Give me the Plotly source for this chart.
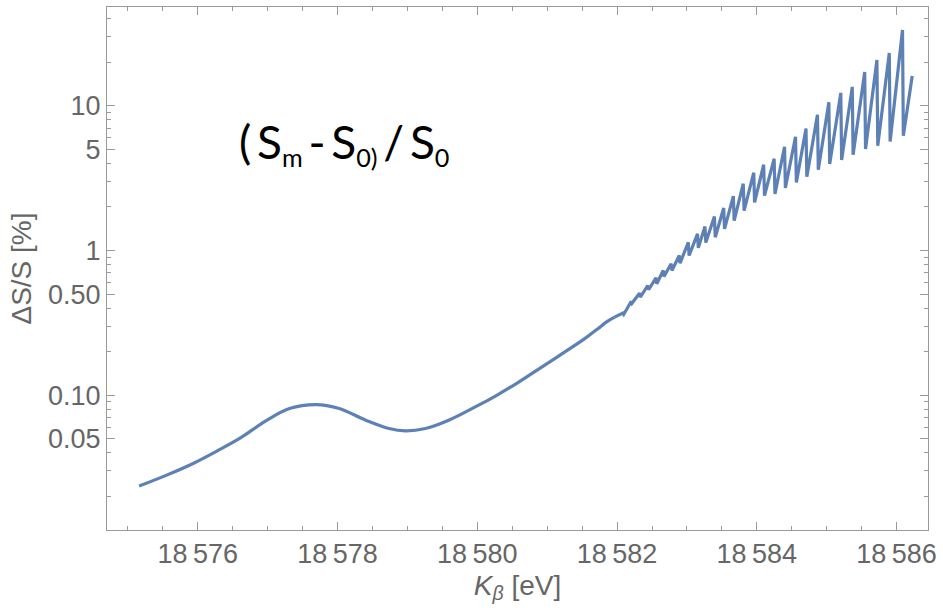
import plotly.graph_objects as go

# ---- data (energy in eV, relative change in %) ----
smooth_energy = [18575.160, 18575.554, 18575.933, 18576.266, 18576.598, 18576.979,
                 18577.311, 18577.691, 18578.023, 18578.403, 18578.735, 18578.973,
                 18579.258, 18579.590, 18579.970, 18580.278, 18580.587, 18580.872,
                 18581.157, 18581.537, 18581.726, 18581.845, 18581.964]
smooth_delta = [0.02358, 0.02807, 0.03380, 0.04100, 0.05028, 0.06680,
                0.08094, 0.08630, 0.08094, 0.06725, 0.05892, 0.05673,
                0.05892, 0.06725, 0.08304, 0.1000, 0.1229, 0.1511,
                0.1858, 0.2461, 0.2884, 0.3201, 0.3467]

tooth_energy = [18582.083, 18582.201, 18582.321, 18582.439, 18582.557, 18582.660,
                18582.774, 18582.890, 18583.019, 18583.151, 18583.258, 18583.393,
                18583.526, 18583.664, 18583.806, 18583.956, 18584.098, 18584.248,
                18584.397, 18584.554, 18584.704, 18584.868, 18585.031, 18585.202,
                18585.366, 18585.544, 18585.719, 18585.896, 18586.085]
tooth_peak = [0.3700, 0.4450, 0.5076, 0.5735, 0.6481, 0.7279, 0.8097, 0.9237,
              1.141, 1.304, 1.464, 1.716, 1.970, 2.376, 2.898, 3.451, 3.918,
              4.310, 5.215, 6.112, 6.971, 8.669, 10.60, 12.29, 13.52, 17.16,
              20.76, 23.21, 33.43]
tooth_trough = [0.3620, 0.4320, 0.4763, 0.5358, 0.5894, 0.6617, 0.7279, 0.8175,
                0.9237, 1.044, 1.135, 1.235, 1.411, 1.610, 1.888, 2.153, 2.395,
                2.460, 2.706, 2.958, 3.238, 3.620, 3.962, 4.222, 4.593, 5.028,
                5.298, 5.673, 6.210]
drop_width_eV = 0.012
end_energy = 18586.224
end_delta = 16.10

x_ticks = [18576, 18578, 18580, 18582, 18584, 18586]
x_ticktext = ["18\u2009576", "18\u2009578", "18\u2009580", "18\u2009582", "18\u2009584", "18\u2009586"]
x_minor = [18575.0, 18575.5, 18576.5, 18577.0, 18577.5, 18578.5, 18579.0, 18579.5,
           18580.5, 18581.0, 18581.5, 18582.5, 18583.0, 18583.5, 18584.5, 18585.0,
           18585.5, 18586.0]
y_ticks = [0.05, 0.1, 0.5, 1, 5, 10]
y_ticktext = ["0.05", "0.10", "0.50", "1", "5", "10"]
y_minor = [0.02, 0.03, 0.04, 0.06, 0.07, 0.08, 0.09,
           0.2, 0.3, 0.4, 0.6, 0.7, 0.8, 0.9,
           2, 3, 4, 6, 7, 8, 9, 20, 30, 40]

# ---- build the sawtooth polyline from the read vertices ----
saw_x = [smooth_energy[-1]]
saw_y = [smooth_delta[-1]]
for e, p, t in zip(tooth_energy, tooth_peak, tooth_trough):
    saw_x += [e, e + drop_width_eV]
    saw_y += [p, t]
saw_x.append(end_energy)
saw_y.append(end_delta)

LINE = "#5E81B5"
FRAME = "#9a9a9a"
LABEL = "#666666"

fig = go.Figure()
fig.add_trace(go.Scatter(x=smooth_energy, y=smooth_delta, mode="lines",
                         line=dict(color=LINE, width=3.2, shape="spline", smoothing=1.0),
                         showlegend=False, hoverinfo="skip"))
fig.add_trace(go.Scatter(x=saw_x, y=saw_y, mode="lines",
                         line=dict(color=LINE, width=3.2), showlegend=False,
                         hoverinfo="skip"))

tickfont = dict(family="Liberation Sans, Arial, sans-serif", size=27, color=LABEL)
titlefont = dict(family="Liberation Sans, Arial, sans-serif", size=28, color=LABEL)

sub = '<span style="font-size:36px"><sub>{}</sub></span>'
label = "(\u2009S" + sub.format("m") + "\u2009-\u2009S" + sub.format("0)") + \
        "\u2009/\u2009S" + sub.format("0")

fig.update_layout(
    width=943, height=611,
    margin=dict(l=107, r=11, t=6, b=81),
    paper_bgcolor="white", plot_bgcolor="white",
    xaxis=dict(
        range=[18574.70, 18586.45],
        tickvals=x_ticks, ticktext=x_ticktext,
        ticks="inside", ticklen=8, tickwidth=1, tickcolor=FRAME,
        minor=dict(tickvals=x_minor, ticks="inside", ticklen=4, tickwidth=1, tickcolor=FRAME),
        showline=True, linecolor=FRAME, linewidth=1, mirror="allticks",
        showgrid=False, zeroline=False, tickfont=tickfont,
        title=dict(text="<i>K</i><sub><i>β</i></sub> [eV]", font=titlefont, standoff=6),
    ),
    yaxis=dict(
        type="log", range=[-1.931, 1.683],
        tickvals=y_ticks, ticktext=y_ticktext,
        ticks="inside", ticklen=8, tickwidth=1, tickcolor=FRAME,
        minor=dict(tickvals=y_minor, ticks="inside", ticklen=4, tickwidth=1, tickcolor=FRAME),
        showline=True, linecolor=FRAME, linewidth=1, mirror="allticks",
        showgrid=False, zeroline=False, tickfont=tickfont,
        title=dict(text="ΔS/S [%]", font=titlefont, standoff=8),
    ),
    annotations=[dict(
        text=label,
        xref="paper", yref="paper", x=0.1588, y=0.74,
        xanchor="left", yanchor="middle", showarrow=False,
        font=dict(family="Lato, Noto Sans, sans-serif", size=46, color="black"),
    )],
)

fig.write_html("out.html")
